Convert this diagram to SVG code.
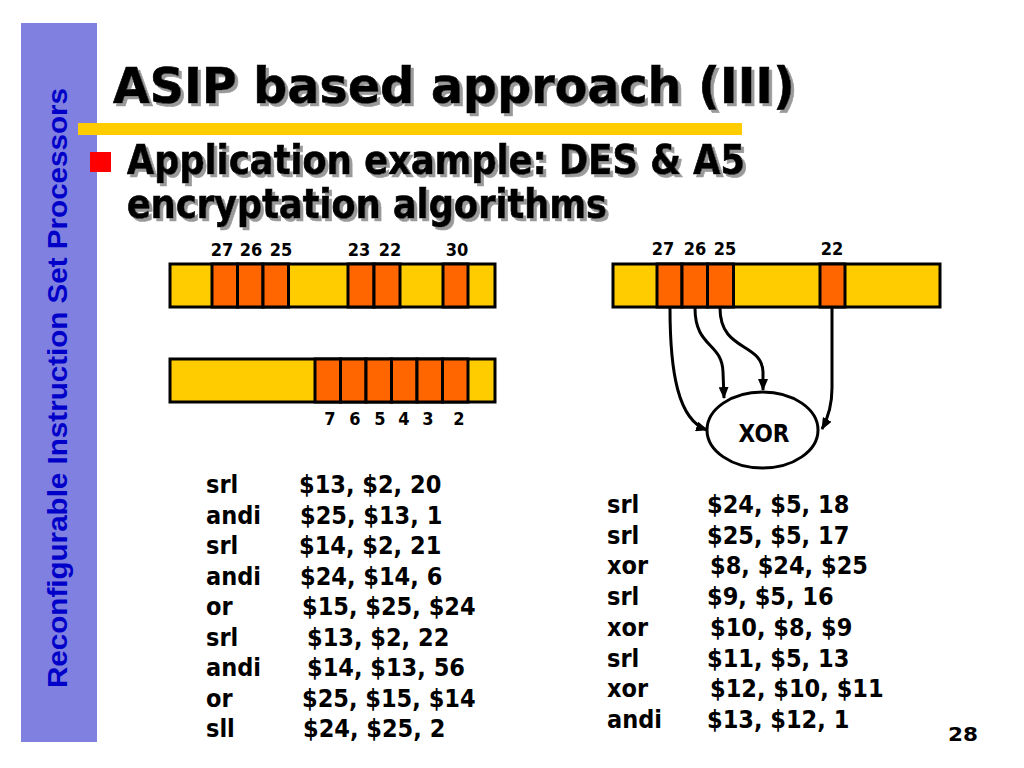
<svg xmlns="http://www.w3.org/2000/svg" width="1024" height="768" viewBox="0 0 1024 768">
<defs>
<style>
.sb{font-family:"Liberation Sans",Arial,sans-serif;font-weight:bold;fill:#0000c8}
.hd{font-family:"DejaVu Sans",Verdana,sans-serif;font-weight:bold}
.cd{font-family:"DejaVu Sans Condensed","DejaVu Sans",Verdana,sans-serif;font-weight:bold;fill:#000}
.heavy{stroke:#000;stroke-width:0.7;filter:url(#shadow)}
.lb{font-family:"DejaVu Sans Condensed","DejaVu Sans",Verdana,sans-serif;font-weight:bold;font-size:18px;fill:#000;text-anchor:middle}
.reg{fill:#ffcc00;stroke:#000;stroke-width:3}
.bit{fill:#ff6600;stroke:#000;stroke-width:3}
.con{fill:none;stroke:#000;stroke-width:3}
</style>
<filter id="shadow" x="-5%" y="-20%" width="110%" height="140%">
<feFlood flood-color="#9a9a9a" result="c"/>
<feComposite in="c" in2="SourceAlpha" operator="in" result="s"/>
<feOffset in="s" dx="3" dy="3" result="o"/>
<feMerge><feMergeNode in="o"/><feMergeNode in="SourceGraphic"/></feMerge>
</filter>
<marker id="ah" viewBox="0 0 12 10" refX="11" refY="5" markerWidth="12" markerHeight="10" markerUnits="userSpaceOnUse" orient="auto">
<path d="M0,0 L12,5 L0,10 Z" fill="#000"/>
</marker>
</defs>
<rect width="1024" height="768" fill="#fff"/>

<g id="sidebar">
<rect x="21" y="23" width="76" height="719" fill="#8080e0"/>
<text class="sb" font-size="28" text-anchor="middle" transform="translate(67,388) rotate(-90)" textLength="600" lengthAdjust="spacingAndGlyphs">Reconfigurable Instruction Set Processors</text>
</g>

<g id="title">
<text class="hd heavy" x="113" y="103" font-size="49" textLength="682" lengthAdjust="spacingAndGlyphs">ASIP based approach (III)</text>
<rect x="78" y="123" width="664" height="12" fill="#ffcc00"/>
</g>

<g id="subtitle">
<rect x="90" y="152" width="21" height="20" fill="#ff0000"/>
<text class="cd heavy" x="127" y="174" font-size="40" textLength="618" lengthAdjust="spacingAndGlyphs">Application example: DES &amp; A5</text>
<text class="cd heavy" x="127" y="218" font-size="40" textLength="480" lengthAdjust="spacingAndGlyphs">encryptation algorithms</text>
</g>

<g id="register-des-source">
<rect class="reg" x="170" y="264" width="325" height="43"/>
<rect class="bit" x="212" y="264" width="25.5" height="43"/>
<rect class="bit" x="237.5" y="264" width="25.5" height="43"/>
<rect class="bit" x="263" y="264" width="25.5" height="43"/>
<rect class="bit" x="348" y="264" width="26" height="43"/>
<rect class="bit" x="374" y="264" width="26" height="43"/>
<rect class="bit" x="443" y="264" width="25" height="43"/>
<text class="lb" x="222" y="256">27</text>
<text class="lb" x="251" y="256">26</text>
<text class="lb" x="281" y="256">25</text>
<text class="lb" x="359" y="256">23</text>
<text class="lb" x="390" y="256">22</text>
<text class="lb" x="457" y="256">30</text>
</g>

<g id="register-des-result">
<rect class="reg" x="170" y="359" width="325" height="43"/>
<rect class="bit" x="315" y="359" width="25.5" height="43"/>
<rect class="bit" x="340.5" y="359" width="25.5" height="43"/>
<rect class="bit" x="366" y="359" width="25.5" height="43"/>
<rect class="bit" x="391.5" y="359" width="25.5" height="43"/>
<rect class="bit" x="417" y="359" width="25.5" height="43"/>
<rect class="bit" x="442.5" y="359" width="25.5" height="43"/>
<text class="lb" x="330" y="425">7</text>
<text class="lb" x="355" y="425">6</text>
<text class="lb" x="380" y="425">5</text>
<text class="lb" x="404" y="425">4</text>
<text class="lb" x="428" y="425">3</text>
<text class="lb" x="459" y="425">2</text>
</g>

<g id="register-a5">
<rect class="reg" x="613" y="264" width="327" height="43"/>
<rect class="bit" x="657" y="264" width="25" height="43"/>
<rect class="bit" x="682" y="264" width="25.5" height="43"/>
<rect class="bit" x="707.5" y="264" width="26" height="43"/>
<rect class="bit" x="820" y="264" width="25" height="43"/>
<text class="lb" x="663" y="255">27</text>
<text class="lb" x="695" y="255">26</text>
<text class="lb" x="725" y="255">25</text>
<text class="lb" x="832" y="255">22</text>
</g>

<g id="connectors">
<path class="con" d="M670,308 C670,372 678,420 707,430" marker-end="url(#ah)"/>
<path class="con" d="M695,308 C695,348 722,342 723,372 L724,398" marker-end="url(#ah)"/>
<path class="con" d="M720,308 C720,352 762,342 763,372 L763,390" marker-end="url(#ah)"/>
<path class="con" d="M832,308 L832,388 C832,406 828,418 822,429" marker-end="url(#ah)"/>
</g>

<g id="xor">
<ellipse cx="762.5" cy="430" rx="55.5" ry="38" fill="#fff" stroke="#000" stroke-width="3"/>
<text class="cd" x="764" y="442" font-size="24" text-anchor="middle">XOR</text>
</g>

<g id="code-des" class="cd" font-size="25">
<text x="206" y="493">srl</text><text x="299" y="493">$13, $2, 20</text>
<text x="206" y="523.5">andi</text><text x="300" y="523.5">$25, $13, 1</text>
<text x="206" y="554">srl</text><text x="299" y="554">$14, $2, 21</text>
<text x="206" y="584.5">andi</text><text x="300" y="584.5">$24, $14, 6</text>
<text x="206" y="615">or</text><text x="302" y="615">$15, $25, $24</text>
<text x="206" y="645.5">srl</text><text x="307" y="645.5">$13, $2, 22</text>
<text x="206" y="676">andi</text><text x="307" y="676">$14, $13, 56</text>
<text x="206" y="706.5">or</text><text x="302" y="706.5">$25, $15, $14</text>
<text x="206" y="737">sll</text><text x="303" y="737">$24, $25, 2</text>
</g>

<g id="code-a5" class="cd" font-size="25">
<text x="607" y="513">srl</text><text x="707" y="513">$24, $5, 18</text>
<text x="607" y="543.7">srl</text><text x="707" y="543.7">$25, $5, 17</text>
<text x="607" y="574.4">xor</text><text x="710" y="574.4">$8, $24, $25</text>
<text x="607" y="605">srl</text><text x="707" y="605">$9, $5, 16</text>
<text x="607" y="635.8">xor</text><text x="710" y="635.8">$10, $8, $9</text>
<text x="607" y="666.5">srl</text><text x="707" y="666.5">$11, $5, 13</text>
<text x="607" y="697.2">xor</text><text x="710" y="697.2">$12, $10, $11</text>
<text x="607" y="728">andi</text><text x="707" y="728">$13, $12, 1</text>
</g>

<g id="page-number">
<text class="hd" x="948" y="741" font-size="20" textLength="30" lengthAdjust="spacingAndGlyphs">28</text>
</g>
</svg>
